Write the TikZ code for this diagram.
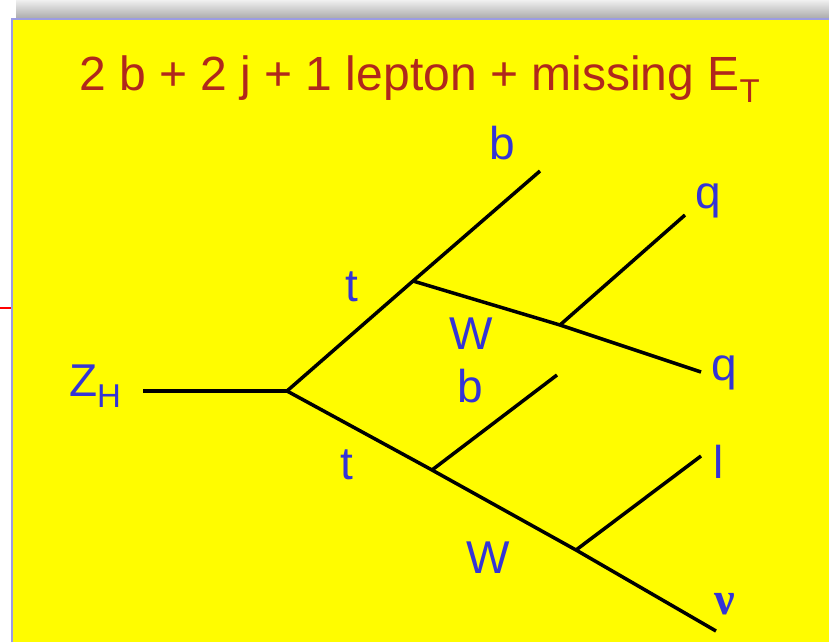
\documentclass[tikz,border=0pt]{standalone}
\usepackage{fontspec}
\setmainfont{Liberation Sans}
\newfontfamily\greekserif{Liberation Serif}
\usetikzlibrary{positioning}
\definecolor{slideYellow}{HTML}{FFFC00}
\definecolor{titleRed}{HTML}{B0281C}
\definecolor{labelBlue}{HTML}{3434D6}
\definecolor{frameBlue}{HTML}{9C9CE2}
\tikzset{
  every picture/.append style={font=\sffamily},
  particle/.style={line width=3.5pt, draw=black},
  plabel/.style={text=labelBlue, inner sep=0pt, font=\fontsize{46}{50}\selectfont},
  titletext/.style={text=titleRed, inner sep=0pt, font=\fontsize{48}{54}\selectfont},
}

\begin{document}
\begin{tikzpicture}[x=1pt,y=-1pt]
  \useasboundingbox (0,0) rectangle (829,642);

  % slide frame
  \fill[white] (0,0) rectangle (829,642);
  \shade[top color=gray!15, bottom color=gray!65] (16,1) rectangle (829,18);
  \fill[slideYellow] (12,19) rectangle (829,642);
  \draw[frameBlue, line width=2pt] (12,642) -- (12,19) -- (829,19);
  \draw[red, line width=2.5pt] (0,308) -- (11,308);

  \node[titletext, anchor=base west] (title) at (79,90)
    {2 b + 2 j + 1 lepton + missing E\raisebox{-12pt}{\fontsize{33}{34}\selectfont T}};

  % vertices and end points
  \coordinate (zin)  at (143,391);
  \coordinate (vZ)   at (287,391);
  \coordinate (vT1)  at (413,281);
  \coordinate (vW1)  at (560,325);
  \coordinate (vT2)  at (432,470);
  \coordinate (vW2)  at (576,550);
  \coordinate (eB1)  at (540,171);
  \coordinate (eQ1)  at (685,215);
  \coordinate (eQ2)  at (701,372);
  \coordinate (eB2)  at (557,375);
  \coordinate (eL)   at (701,456);
  \coordinate (eNu)  at (716,631);

  \draw[particle] (zin) -- (vZ);
  \draw[particle] (vZ) -- (vT1) -- (eB1);
  \draw[particle] (vT1) -- (vW1) -- (eQ2);
  \draw[particle] (vW1) -- (eQ1);
  \draw[particle] (vZ) -- (vT2) -- (vW2) -- (eNu);
  \draw[particle] (vT2) -- (eB2);
  \draw[particle] (vW2) -- (eL);

  % labels
  \node[plabel] (lZ)  at (95,386)  {Z\raisebox{-11pt}{\fontsize{33}{36}\selectfont H}};
  \node[plabel] (lB1) at (502,143) {b};
  \node[plabel] (lT1) at (352,287) {t};
  \node[plabel] (lW1) at (471,334) {W};
  \node[plabel] (lQ1) at (708,201) {q};
  \node[plabel] (lQ2) at (724,373) {q};
  \node[plabel] (lB2) at (470,386) {b};
  \node[plabel] (lT2) at (347,465) {t};
  \node[plabel] (lW2) at (488,558) {W};
  \node[plabel] (lL)  at (719,462) {l};
  \node[plabel] (lNu) at (725,604) {\greekserif\bfseries ν};
\end{tikzpicture}
\end{document}
